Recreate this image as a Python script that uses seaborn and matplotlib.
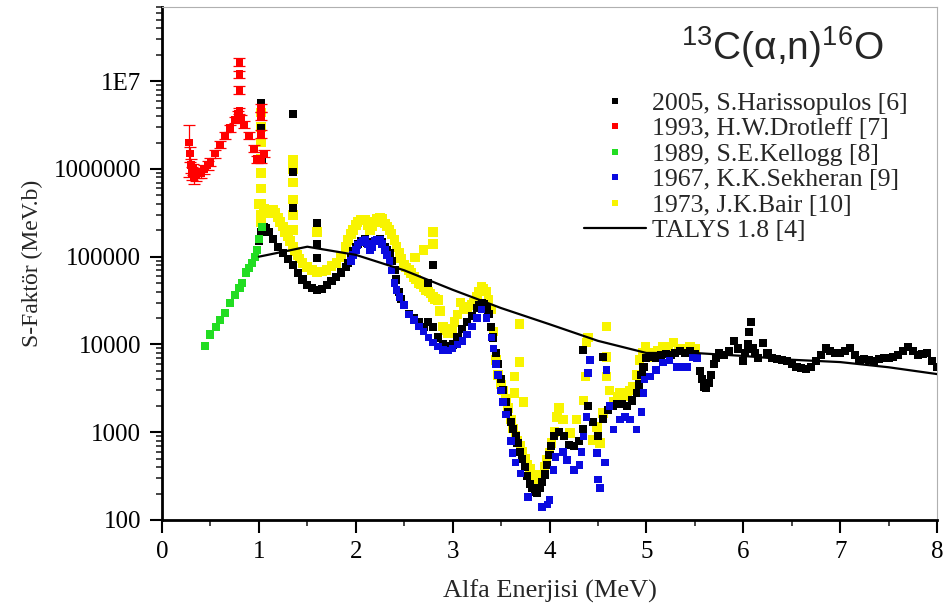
import numpy as np
import pandas as pd
import seaborn as sns
import matplotlib
matplotlib.use("Agg")
import matplotlib.pyplot as plt
from matplotlib.ticker import FixedLocator, FixedFormatter, LogLocator, NullFormatter, MultipleLocator
from matplotlib.lines import Line2D

# ---------------- DATA ----------------
# 2005, S.Harissopulos [6]  (black)
har_x = [1.00, 1.05, 1.10, 1.15, 1.20, 1.25, 1.30, 1.35, 1.40, 1.45, 1.50, 1.55, 1.60, 1.65, 1.70, 1.75,
         1.80, 1.85, 1.90, 1.95, 2.00, 2.05, 2.10, 2.15, 2.20, 2.25, 2.30, 2.35, 2.40, 2.45, 2.50, 2.55,
         2.60, 2.65, 2.70, 2.75, 2.80, 2.85, 2.90, 2.95, 3.00, 3.05, 3.10, 3.15, 3.20, 3.25, 3.30, 3.35,
         3.40, 3.45, 3.50, 3.55, 3.60, 3.65, 3.70, 3.75, 3.80, 3.85, 3.90, 3.95, 4.00, 4.05, 4.10, 4.15,
         4.20, 4.25, 4.30, 4.35, 4.40, 4.45, 4.50, 4.55, 4.60, 4.65, 4.70, 4.75, 4.80, 4.85, 4.90, 4.95,
         5.00, 5.05, 5.10, 5.15, 5.20, 5.25, 5.30, 5.35, 5.40, 5.45, 5.50, 5.55, 5.60, 5.65, 5.70, 5.75,
         5.80, 5.85, 5.90, 5.95, 6.00, 6.05, 6.08, 6.10, 6.15, 6.20, 6.25, 6.30, 6.35, 6.40, 6.45, 6.50,
         6.55, 6.60, 6.65, 6.70, 6.75, 6.80, 6.85, 6.90, 6.95, 7.00, 7.05, 7.10, 7.15, 7.20, 7.25, 7.30,
         7.35, 7.40, 7.45, 7.50, 7.55, 7.60, 7.65, 7.70, 7.75, 7.80, 7.85, 7.90, 7.95, 8.00,
         1.02, 1.02, 1.03, 1.35, 1.35, 1.35, 1.60, 1.60, 1.60, 2.80, 2.75, 4.35, 4.55]
har_y = [1.5e5, 2.2e5, 1.9e5, 1.6e5, 1.3e5, 1.1e5, 9.5e4, 8.0e4, 6.5e4, 5.5e4, 4.8e4, 4.4e4, 4.2e4, 4.3e4, 4.8e4, 5.3e4,
         5.9e4, 6.6e4, 7.6e4, 1.0e5, 1.3e5, 1.5e5, 1.6e5, 1.3e5, 1.5e5, 1.6e5, 1.3e5, 1.1e5, 7.0e4, 4.0e4, 2.8e4, 2.2e4,
         2.0e4, 1.8e4, 1.6e4, 1.8e4, 1.6e4, 1.2e4, 1.0e4, 9.5e3, 1.0e4, 1.2e4, 1.5e4, 1.8e4, 2.1e4, 2.6e4, 3.0e4, 2.6e4,
         1.6e4, 8.0e3, 4.0e3, 2.2e3, 1.3e3, 900, 600, 400, 260, 210, 230, 330, 550, 900, 1.0e3, 900,
         720, 700, 800, 1.1e3, 2.0e3, 1.3e3, 900, 1.4e3, 1.8e3, 2.0e3, 2.1e3, 2.1e3, 2.0e3, 2.3e3, 2.8e3, 4.5e3,
         7.0e3, 7.2e3, 7.0e3, 7.5e3, 7.8e3, 7.5e3, 8.0e3, 8.5e3, 8.0e3, 8.5e3, 7.8e3, 5.0e3, 3.3e3, 3.6e3, 6.0e3, 8.0e3,
         7.5e3, 8.5e3, 1.1e4, 9.0e3, 6.5e3, 1.0e4, 1.8e4, 9.0e3, 7.0e3, 1.05e4, 8.0e3, 7.0e3, 6.8e3, 6.6e3, 6.5e3, 6.0e3,
         5.5e3, 5.4e3, 5.3e3, 5.5e3, 6.5e3, 7.5e3, 9.0e3, 8.5e3, 8.0e3, 8.0e3, 8.5e3, 9.2e3, 7.5e3, 6.6e3, 6.8e3, 6.6e3,
         6.5e3, 6.8e3, 7.0e3, 7.0e3, 7.2e3, 7.5e3, 8.5e3, 9.4e3, 8.5e3, 7.6e3, 7.8e3, 8.0e3, 6.5e3, 5.5e3,
         5.7e6, 2.9e6, 1.3e6, 4.2e6, 9.3e5, 3.6e5, 2.4e5, 1.4e5, 9.7e4, 8.0e4, 5.0e4, 8.7e3, 7.2e3]
# further Harissopulos points read along the steep parts of the curve
har2_x = [1.02, 1.07, 1.92, 1.97, 2.02, 2.12, 2.17, 2.22, 2.27, 2.32, 2.37, 2.42, 2.47, 3.27, 3.32, 3.37,
          3.42, 3.47, 3.52, 3.57, 3.62, 3.67, 3.72, 3.77, 3.82, 3.87, 3.92, 3.97, 4.02, 4.92, 4.97, 5.57,
          5.62, 5.67, 5.72, 6.02, 6.06, 6.12]
har2_y = [1.9e5, 2.1e5, 8.5e4, 1.15e5, 1.4e5, 1.45e5, 1.35e5, 1.55e5, 1.45e5, 1.2e5, 9.0e4, 5.5e4, 3.3e4, 2.8e4, 2.9e4, 2.2e4,
          1.2e4, 6.0e3, 3.0e3, 1.7e3, 1.1e3, 750, 500, 320, 230, 205, 270, 420, 700, 3.5e3, 5.5e3, 4.0e3,
          3.2e3, 4.5e3, 7.0e3, 8.0e3, 1.4e4, 8.0e3]

# 1993, H.W.Drotleff [7]  (red, with error bars)
dro_x = [0.28, 0.29, 0.30, 0.31, 0.32, 0.33, 0.35, 0.37, 0.40, 0.43, 0.47, 0.50, 0.55, 0.60, 0.65, 0.70,
         0.75, 0.78, 0.80, 0.82, 0.85, 0.90, 0.95, 0.98, 0.80, 0.80, 0.80, 1.02, 1.02, 1.02, 1.02, 1.05]
dro_y = [2.0e6, 1.5e6, 1.1e6, 9.0e5, 1.0e6, 8.0e5, 8.5e5, 9.0e5, 9.0e5, 1.0e6, 1.1e6, 1.2e6, 1.5e6, 1.9e6, 2.4e6, 2.9e6,
         3.6e6, 4.2e6, 4.6e6, 3.8e6, 3.2e6, 2.4e6, 1.7e6, 1.3e6, 1.67e7, 1.2e7, 8.0e6, 5.0e6, 4.0e6, 2.5e6, 1.3e6, 1.5e6]
dro_err = [1.2e6, 3.0e5, 2.0e5, 1.5e5, 1.5e5, 1.2e5, 1.2e5, 1.2e5, 1.2e5, 1.2e5, 1.2e5, 1.3e5, 1.5e5, 1.8e5, 2.2e5, 2.6e5,
           3.0e5, 3.5e5, 4.0e5, 3.5e5, 3.0e5, 2.2e5, 1.6e5, 1.2e5, 1.8e6, 1.2e6, 8.0e5, 5.0e5, 4.0e5, 2.5e5, 1.2e5, 1.4e5]

# 1989, S.E.Kellogg [8]  (green)
kel_x = [0.44, 0.50, 0.56, 0.60, 0.65, 0.70, 0.75, 0.80, 0.83, 0.87, 0.90, 0.93, 0.96, 0.98, 1.00, 1.03]
kel_y = [9.6e3, 1.3e4, 1.6e4, 1.9e4, 2.3e4, 3.0e4, 3.7e4, 4.4e4, 5.0e4, 6.6e4, 7.5e4, 8.5e4, 1.0e5, 1.2e5, 1.6e5, 2.2e5]

# 1967, K.K.Sekheran [9]  (blue)
sek_x = [1.95, 2.00, 2.05, 2.10, 2.15, 2.20, 2.25, 2.30, 2.35, 2.40, 2.45, 2.50, 2.55, 2.60, 2.65, 2.70,
         2.75, 2.80, 2.85, 2.90, 2.95, 3.00, 3.05, 3.10, 3.15, 3.20, 3.25, 3.30, 3.35, 3.40, 3.45, 3.50,
         3.55, 3.60, 3.62, 3.65, 3.70, 3.78, 3.92, 3.98, 4.00, 4.04, 4.06, 4.14, 4.18, 4.25, 4.31, 4.33,
         4.35, 4.38, 4.40, 4.42, 4.49, 4.50, 4.52, 4.57, 4.59, 4.62, 4.66, 4.73, 4.78, 4.83, 4.90, 4.95,
         4.97, 4.98, 5.04, 5.10, 5.17, 5.24, 5.31, 5.37, 5.42, 5.48, 5.52,
         1.97, 2.02, 2.07, 2.12, 2.17, 2.22, 2.27, 2.32, 2.37, 2.42, 3.42, 3.47, 3.52]
sek_y = [9.0e4, 1.2e5, 1.45e5, 1.55e5, 1.2e5, 1.5e5, 1.55e5, 1.2e5, 9.0e4, 5.0e4, 3.5e4, 2.8e4, 2.2e4, 1.9e4, 1.6e4, 1.4e4,
         1.2e4, 1.05e4, 9.5e3, 8.7e3, 8.5e3, 9.0e3, 1.0e4, 1.1e4, 1.3e4, 1.6e4, 2.0e4, 2.5e4, 2.0e4, 1.2e4, 6.0e3, 3.0e3,
         1.6e3, 800, 580, 450, 340, 183, 140, 150, 170, 370, 520, 600, 480, 370, 420, 600,
         890, 1.5e3, 4.7e3, 6.7e3, 580, 290, 230, 450, 5.1e3, 2.0e3, 1.07e3, 1.4e3, 1.5e3, 1.4e3, 1.07e3, 1.7e3,
         2.8e3, 4.0e3, 4.3e3, 5.1e3, 6.2e3, 6.6e3, 5.5e3, 5.5e3, 5.5e3, 7.2e3, 7.0e3,
         1.05e5, 1.35e5, 1.5e5, 1.4e5, 1.3e5, 1.55e5, 1.4e5, 1.05e5, 7.0e4, 4.2e4, 9.0e3, 4.5e3, 2.2e3]

# 1973, J.K.Bair [10]  (yellow)
bai_x = [1.00, 1.02, 1.02, 1.02, 1.02, 1.02, 1.02, 1.02, 1.02, 1.02, 1.05, 1.10, 1.15, 1.20, 1.25, 1.30,
         1.35, 1.40, 1.45, 1.50, 1.55, 1.60, 1.65, 1.70, 1.75, 1.80, 1.85, 1.90, 1.95, 2.00, 2.05, 2.10,
         2.15, 2.20, 2.25, 2.30, 2.35, 2.40, 2.45, 2.50, 2.55, 2.60, 2.65, 2.70, 2.75, 2.80, 2.85, 2.90,
         2.95, 3.00, 3.05, 3.08, 3.15, 3.20, 3.25, 3.30, 3.35, 3.40, 3.45, 3.50, 3.55, 3.60, 3.65, 3.70,
         3.75, 3.80, 3.85, 3.88, 3.95, 4.00, 4.05, 4.08, 4.10, 4.14, 4.21, 4.28, 4.35, 4.37, 4.38, 4.40,
         4.45, 4.49, 4.52, 4.55, 4.59, 4.59, 4.59, 4.66, 4.73, 4.80, 4.86, 4.93, 4.99, 5.07, 5.17, 5.28,
         5.38, 5.45, 1.35, 1.35, 1.35, 1.35, 1.35, 1.35, 1.60, 2.80, 2.80, 2.70, 2.61, 3.69, 3.69, 3.64,
         3.64, 3.73]
bai_y = [4.0e5, 4.4e6, 3.0e6, 2.0e6, 1.3e6, 9.0e5, 6.0e5, 4.0e5, 3.0e5, 2.5e5, 3.5e5, 3.2e5, 3.4e5, 2.8e5, 2.2e5, 1.7e5,
         1.3e5, 1.05e5, 8.5e4, 7.6e4, 7.0e4, 6.6e4, 6.8e4, 7.1e4, 7.8e4, 8.5e4, 1.0e5, 1.3e5, 1.8e5, 2.3e5, 2.6e5, 2.6e5,
         2.0e5, 2.5e5, 2.8e5, 2.4e5, 2.0e5, 1.55e5, 1.1e5, 8.0e4, 7.0e4, 5.9e4, 5.0e4, 4.5e4, 4.0e4, 3.5e4, 3.2e4, 1.6e4,
         1.35e4, 1.5e4, 2.2e4, 3.0e4, 2.5e4, 2.8e4, 3.5e4, 4.5e4, 4.0e4, 2.5e4, 6.7e3, 3.5e3, 2.4e3, 1.4e3, 900, 700,
         500, 380, 300, 290, 400, 580, 1.0e3, 1.5e3, 1.9e3, 1.4e3, 980, 1.4e3, 2.3e3, 4.3e3, 1.05e4, 1.2e4,
         810, 1.15e3, 760, 1.65e3, 4.3e3, 7.2e3, 1.6e4, 2.2e3, 2.8e3, 2.6e3, 3.3e3, 6.7e3, 9.4e3, 7.2e3, 9.4e3, 1.05e4,
         8.6e3, 9.4e3, 1.27e6, 1.0e6, 7.0e5, 4.5e5, 3.0e5, 2.0e5, 1.9e5, 1.9e5, 1.4e5, 1.2e5, 9.8e4, 1.7e4, 6.3e3, 4.3e3,
         2.8e3, 2.2e3]
# further Bair points read along the dense parts
bai2_x = [1.07, 1.12, 1.17, 1.22, 1.27, 1.32, 1.37, 1.42, 1.92, 1.97, 2.02, 2.07, 2.12, 2.17, 2.22, 2.27,
          2.32, 2.37, 2.42, 2.47, 3.42, 3.47, 3.52, 3.57, 3.62, 3.67, 3.72, 3.77, 3.82, 3.92, 3.97, 4.02]
bai2_y = [3.3e5, 3.1e5, 3.2e5, 2.5e5, 1.9e5, 1.5e5, 1.15e5, 9.5e4, 1.55e5, 2.0e5, 2.5e5, 2.6e5, 2.3e5, 2.2e5, 2.7e5, 2.7e5,
          2.2e5, 1.8e5, 1.3e5, 9.5e4, 1.4e4, 4.5e3, 3.0e3, 1.9e3, 1.1e3, 800, 600, 430, 330, 330, 480, 750]
bai3_x = [2.52, 2.57, 2.62, 2.67, 2.72, 2.77, 2.82, 2.87, 2.92, 3.02, 3.12, 3.22, 3.27, 3.32, 3.37,
          4.62, 4.70, 4.76, 4.83, 4.90, 4.96, 5.02, 5.12, 5.22, 5.33, 5.42, 5.50]
bai3_y = [7.5e4, 6.5e4, 5.5e4, 4.8e4, 4.2e4, 3.8e4, 3.3e4, 2.4e4, 1.45e4, 1.8e4, 2.7e4, 3.0e4, 4.0e4, 4.3e4, 3.2e4,
          3.0e3, 2.5e3, 2.7e3, 3.0e3, 4.5e3, 8.0e3, 8.0e3, 8.5e3, 9.5e3, 9.0e3, 9.0e3, 9.0e3]

# TALYS 1.8 [4]  (line)
tal_x = [1.0, 1.5, 2.0, 2.5, 3.0, 3.5, 4.0, 4.5, 5.0, 5.5, 6.0, 6.5, 7.0, 7.5, 8.0]
tal_y = [1.0e5, 1.3e5, 1.05e5, 7.0e4, 4.2e4, 2.6e4, 1.7e4, 1.1e4, 8.0e3, 8.0e3, 7.4e3, 6.7e3, 6.3e3, 5.5e3, 4.6e3]

series_labels = ["2005, S.Harissopulos [6]", "1993, H.W.Drotleff [7]", "1989, S.E.Kellogg [8]",
                 "1967, K.K.Sekheran [9]", "1973, J.K.Bair [10]", "TALYS 1.8 [4]"]
series_colors = ["#000000", "#ff0000", "#22dd22", "#0a0ae0", "#f8f400", "#000000"]

y_tick_values = [100, 1000, 10000, 100000, 1000000, 10000000]
y_tick_labels = ["100", "1000", "10000", "100000", "1000000", "1E7"]
x_tick_values = [0, 1, 2, 3, 4, 5, 6, 7, 8]

x_label = "Alfa Enerjisi (MeV)"
y_label = "S-Faktör (MeV.b)"
title_text = r"$^{13}$C(α,n)$^{16}$O"

# ---------------- STYLE ----------------
sns.set_style("ticks")
plt.rcParams["font.family"] = ["Liberation Serif", "DejaVu Serif"]
plt.rcParams["mathtext.fontset"] = "custom"
plt.rcParams["mathtext.rm"] = "Liberation Sans"
plt.rcParams["mathtext.it"] = "Liberation Sans:italic"
plt.rcParams["mathtext.bf"] = "Liberation Sans:bold"

fig = plt.figure(figsize=(9.44, 6.05), dpi=100)
ax = fig.add_axes([0.1716, 0.1405, 0.8210, 0.8479])

def frame(xs, ys, name):
    return pd.DataFrame({"E": xs, "S": ys, "set": name})

df_bai = pd.concat([frame(bai_x, bai_y, series_labels[4]), frame(bai2_x, bai2_y, series_labels[4]),
                    frame(bai3_x, bai3_y, series_labels[4])])
df_har = pd.concat([frame(har_x, har_y, series_labels[0]), frame(har2_x, har2_y, series_labels[0])])
df_sek = frame(sek_x, sek_y, series_labels[3])
df_kel = frame(kel_x, kel_y, series_labels[2])
df_dro = frame(dro_x, dro_y, series_labels[1])
df_tal = frame(tal_x, tal_y, series_labels[5])

# draw order: yellow, black, blue, green, red
sns.scatterplot(data=df_bai, x="E", y="S", color=series_colors[4], marker="s", s=48,
                edgecolor="none", ax=ax, legend=False, zorder=2)
sns.scatterplot(data=df_har, x="E", y="S", color=series_colors[0], marker="s", s=34,
                edgecolor="none", ax=ax, legend=False, zorder=3)
sns.scatterplot(data=df_sek, x="E", y="S", color=series_colors[3], marker="s", s=30,
                edgecolor="none", ax=ax, legend=False, zorder=4)
sns.scatterplot(data=df_kel, x="E", y="S", color=series_colors[2], marker="s", s=34,
                edgecolor="none", ax=ax, legend=False, zorder=4)
ax.errorbar(dro_x, dro_y, yerr=dro_err, fmt="none", ecolor=series_colors[1], elinewidth=0.9,
            capsize=4, capthick=0.9, zorder=4)
sns.scatterplot(data=df_dro, x="E", y="S", color=series_colors[1], marker="s", s=32,
                edgecolor="none", ax=ax, legend=False, zorder=5)
sns.lineplot(data=df_tal, x="E", y="S", color=series_colors[5], lw=1.6, sort=False,
             estimator=None, ax=ax, legend=False, zorder=6)

ax.set_yscale("log")
ax.set_xlim(0, 8)
ax.set_ylim(100, 7e7)

ax.xaxis.set_major_locator(FixedLocator(x_tick_values))
ax.xaxis.set_minor_locator(MultipleLocator(0.5))
ax.yaxis.set_major_locator(FixedLocator(y_tick_values))
ax.yaxis.set_major_formatter(FixedFormatter(y_tick_labels))
ax.yaxis.set_minor_locator(LogLocator(base=10, subs=np.arange(2, 10), numticks=20))
ax.yaxis.set_minor_formatter(NullFormatter())

ax.tick_params(axis="both", which="major", direction="out", length=9, width=1.5,
               labelsize=18, colors="black", pad=6)
ax.tick_params(axis="both", which="minor", direction="out", length=4.5, width=1.2)
ax.tick_params(top=False, right=False, which="both")

for side in ["left", "bottom"]:
    ax.spines[side].set_linewidth(2.0)
    ax.spines[side].set_color("black")
for side in ["top", "right"]:
    ax.spines[side].set_visible(True)
    ax.spines[side].set_linewidth(0.8)
    ax.spines[side].set_color("#b0b0b0")

ax.set_xlabel(x_label, fontsize=19, labelpad=12)
ax.set_ylabel(y_label, fontsize=17, labelpad=8)

ax.text(0.80, 0.897, title_text, transform=ax.transAxes, ha="center", va="baseline",
        fontsize=28, family="Liberation Sans")

handles = [Line2D([], [], ls="none", marker="s", ms=4, color=c, markeredgewidth=0)
           for c in series_colors[:5]]
handles.append(Line2D([], [], color="black", lw=1.6))
ax.legend(handles, series_labels, loc="upper right", bbox_to_anchor=(0.962, 0.835),
          frameon=False, fontsize=18.5, handlelength=2.4, handletextpad=0.25,
          labelspacing=0.1, borderpad=0, borderaxespad=0)

fig.savefig("out.png", dpi=100)
